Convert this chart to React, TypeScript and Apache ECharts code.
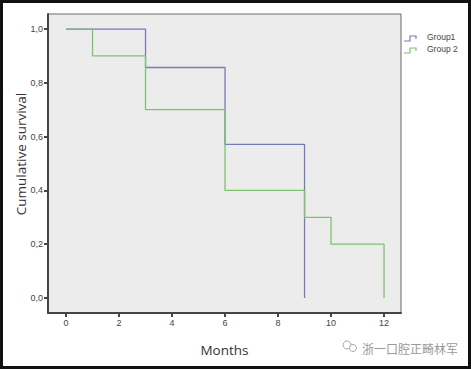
import React, { useEffect, useRef } from "react";
import * as echarts from "echarts";

const xTicks = [0, 2, 4, 6, 8, 10, 12];
const yTicks = [0, 0.2, 0.4, 0.6, 0.8, 1.0];
const group1Name = "Group1";
const group2Name = "Group 2";
const group1Steps: [number, number][] = [
  [0, 1.0], [3, 1.0], [3, 0.857], [6, 0.857], [6, 0.571], [9, 0.571], [9, 0],
];
const group2Steps: [number, number][] = [
  [0, 1.0], [1, 1.0], [1, 0.9], [3, 0.9], [3, 0.7], [6, 0.7], [6, 0.4],
  [9, 0.4], [9, 0.3], [10, 0.3], [10, 0.2], [12, 0.2], [12, 0],
];
const xTitle = "Months";
const yTitle = "Cumulative survival";
const watermark = "浙一口腔正畸林军";

const BLUE = "#7579bd";
const GREEN = "#7dc26c";

export default function App() {
  const ref = useRef<HTMLDivElement>(null);
  useEffect(() => {
    document.body.style.margin = "0";
    const chart = echarts.init(ref.current!, null, { renderer: "svg" });
    const labelStyle = { color: "#444", fontSize: 9, fontFamily: "Liberation Sans, Arial, sans-serif" };
    chart.setOption({
      animation: false,
      backgroundColor: "#ffffff",
      grid: {
        left: 48, top: 14, width: 353, height: 299,
        show: true, backgroundColor: "#ececec", borderColor: "#6a6a6a", borderWidth: 1,
      },
      xAxis: {
        type: "value", min: -0.68, max: 12.64,
        name: xTitle, nameLocation: "middle", nameGap: 30,
        nameTextStyle: { color: "#333", fontSize: 13.5, fontFamily: "Open Sans, sans-serif" },
        splitLine: { show: false },
        axisLine: { show: true, onZero: false, lineStyle: { color: "#444", width: 2 } },
        axisTick: { show: true, length: 4, customValues: xTicks, lineStyle: { color: "#444", width: 2 } },
        axisLabel: { ...labelStyle, margin: 5, customValues: xTicks, formatter: (v: number) => String(v) },
      },
      yAxis: {
        type: "value", min: -0.056, max: 1.056,
        name: yTitle, nameLocation: "middle", nameGap: 20, nameRotate: 90, nameMoveOverlap: false,
        nameTextStyle: { color: "#333", fontSize: 13.5, fontFamily: "Open Sans, sans-serif", padding: [0, 0, 0, 19] },
        splitLine: { show: false },
        axisLine: { show: true, onZero: false, lineStyle: { color: "#444", width: 2 } },
        axisTick: { show: true, length: 4, customValues: yTicks, lineStyle: { color: "#444", width: 2 } },
        axisLabel: {
          ...labelStyle, margin: 5, customValues: yTicks,
          formatter: (v: number) => v.toFixed(1).replace(".", ","),
        },
      },
      series: [
        {
          name: group1Name, type: "line", data: group1Steps, symbol: "none",
          lineStyle: { color: BLUE, width: 1.3 }, z: 2,
        },
        {
          name: group2Name, type: "line", data: group2Steps, symbol: "none",
          lineStyle: { color: GREEN, width: 1.3 }, z: 3,
        },
      ],
      graphic: [
        {
          type: "polyline", shape: { points: [[404, 41], [410, 41], [410, 36], [416, 36], [416, 39]] },
          style: { stroke: BLUE, lineWidth: 1.2, fill: "none" },
        },
        {
          type: "text", x: 427, y: 37, style: { text: group1Name, fill: "#444", fontSize: 8.5, fontFamily: "Liberation Sans, Arial, sans-serif", verticalAlign: "middle" },
        },
        {
          type: "polyline", shape: { points: [[404, 53], [410, 53], [410, 48], [416, 48], [416, 51]] },
          style: { stroke: GREEN, lineWidth: 1.2, fill: "none" },
        },
        {
          type: "text", x: 427, y: 49, style: { text: group2Name, fill: "#444", fontSize: 8.5, fontFamily: "Liberation Sans, Arial, sans-serif", verticalAlign: "middle" },
        },
        {
          type: "circle", shape: { cx: 347, cy: 345, r: 4 },
          style: { stroke: "#aaa", lineWidth: 1, fill: "none" },
        },
        {
          type: "circle", shape: { cx: 353, cy: 348, r: 3.5 },
          style: { stroke: "#aaa", lineWidth: 1, fill: "#fff" },
        },
        {
          type: "text", x: 362, y: 348, style: { text: watermark, fill: "#9a9a9a", fontSize: 12, fontFamily: "Noto Sans CJK SC", verticalAlign: "middle" },
        },
        {
          type: "rect", shape: { x: 1.5, y: 1.5, width: 468, height: 366 },
          style: { stroke: "#111", lineWidth: 3, fill: "none" }, z: 100,
        },
      ],
    });
    return () => chart.dispose();
  }, []);
  return <div ref={ref} style={{ position: "absolute", left: 0, top: 0, width: 471, height: 369 }} />;
}
